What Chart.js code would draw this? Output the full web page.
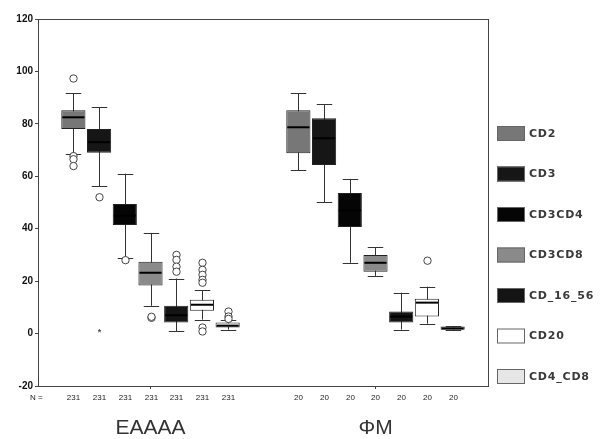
<!DOCTYPE html>
<html>
<head>
<meta charset="utf-8">
<script src="https://cdn.jsdelivr.net/npm/chart.js@4"></script>
<style>
body{margin:0;background:#fff;}
#wrap{width:602px;height:439px;}
</style>
</head>
<body>
<div id="wrap"><canvas id="boxChart" width="602" height="439"></canvas></div>
<script>
let groups = ["EAAAA", "ΦΜ"];
let seriesNames = ["CD2", "CD3", "CD3CD4", "CD3CD8", "CD_16_56", "CD20", "CD4_CD8"];
let seriesColors = ["#777777", "#161616", "#050505", "#8a8a8a", "#141414", "#ffffff", "#e6e6e6"];

// each row: [EAAAA, ΦΜ]
let whiskerLow  = [[68.4, 62.4], [56.3, 50.2], [29, 27], [10.6, 22], [0.8, 1.5], [5.3, 3.8], [1.5, 1.5]];
let q1          = [[78, 68.8], [69, 64.3], [41.4, 40.7], [18.3, 23.6], [4.2, 4.2], [8.7, 6.5], [2.3, 1.5]];
let median      = [[82.5, 78.7], [73, 74.5], [45, 47], [23.2, 27], [7, 6.5], [11, 11.8], [3, 2]];
let q3          = [[85.2, 85.2], [78, 82.1], [49.4, 53.6], [27.4, 30], [10.6, 8.4], [12.9, 13.3], [4.2, 2.7]];
let whiskerHigh = [[91.6, 91.6], [86.3, 87.5], [61, 59], [38.4, 33], [21, 15.6], [16.5, 17.9], [5, 2.7]];
let outliers    = [
  [[97.3, 67.7, 66.5, 63.9], []],
  [[52], []],
  [[28], []],
  [[6, 6.4], []],
  [[30, 28.1, 25.5, 23.6], []],
  [[27, 24.3, 22.4, 20.5, 19.4, 2.3, 0.8], [27.8]],
  [[8.4, 6.5, 5.6], []]
];
let extremes    = [[[], []], [[1], []], [[], []], [[], []], [[], []], [[], []], [[], []]];
let nCounts     = [[231, 231, 231, 231, 231, 231, 231], [20, 20, 20, 20, 20, 20, 20]];
let yTicks      = [-20, 0, 20, 40, 60, 80, 100, 120];

let datasets = seriesNames.map((name, i) => ({
  label: name,
  data: groups.map((g, j) => [q1[i][j], q3[i][j]]),
  backgroundColor: seriesColors[i],
  borderColor: "#222",
  borderWidth: 1,
  borderSkipped: false,
  categoryPercentage: 0.8,
  barPercentage: 0.94
}));

let boxPlugin = {
  id: "boxExtras",
  beforeDatasetsDraw(chart) {
    let a = chart.chartArea;
    let ctx = chart.ctx;
    ctx.save();
    ctx.strokeStyle = "#444";
    ctx.lineWidth = 1;
    ctx.strokeRect(a.left + 0.5, a.top + 0.5, a.right - a.left, a.bottom - a.top);
    // whisker stems behind boxes
    let y = chart.scales.y;
    seriesNames.forEach((s, i) => {
      chart.getDatasetMeta(i).data.forEach((bar, j) => {
        ctx.strokeStyle = "#333";
        ctx.beginPath();
        ctx.moveTo(Math.round(bar.x) + 0.5, y.getPixelForValue(whiskerHigh[i][j]));
        ctx.lineTo(Math.round(bar.x) + 0.5, y.getPixelForValue(whiskerLow[i][j]));
        ctx.stroke();
      });
    });
    ctx.restore();
  },
  afterDatasetsDraw(chart) {
    let ctx = chart.ctx;
    let y = chart.scales.y;
    let a = chart.chartArea;
    ctx.save();
    seriesNames.forEach((s, i) => {
      chart.getDatasetMeta(i).data.forEach((bar, j) => {
        let cx = Math.round(bar.x) + 0.5;
        let half = bar.width / 2;
        let cap = bar.width * 0.32;
        ctx.strokeStyle = "#333";
        ctx.lineWidth = 1;
        [whiskerHigh[i][j], whiskerLow[i][j]].forEach(v => {
          let py = Math.round(y.getPixelForValue(v)) + 0.5;
          ctx.beginPath();
          ctx.moveTo(cx - cap, py);
          ctx.lineTo(cx + cap, py);
          ctx.stroke();
        });
        ctx.strokeStyle = "#000";
        ctx.lineWidth = 2;
        let my = y.getPixelForValue(median[i][j]);
        ctx.beginPath();
        ctx.moveTo(bar.x - half + 1, my);
        ctx.lineTo(bar.x + half - 1, my);
        ctx.stroke();
        ctx.lineWidth = 1;
        outliers[i][j].forEach(v => {
          ctx.beginPath();
          ctx.arc(cx, y.getPixelForValue(v), 3.7, 0, Math.PI * 2);
          ctx.fillStyle = "#fff";
          ctx.fill();
          ctx.strokeStyle = "#444";
          ctx.stroke();
        });
        extremes[i][j].forEach(v => {
          ctx.fillStyle = "#555";
          ctx.font = "bold 9px Arial";
          ctx.textAlign = "center";
          ctx.textBaseline = "middle";
          ctx.fillText("*", cx, y.getPixelForValue(v) + 2);
        });
        ctx.fillStyle = "#222";
        ctx.font = "8px Arial";
        ctx.textAlign = "center";
        ctx.textBaseline = "middle";
        ctx.fillText(String(nCounts[j][i]), cx, a.bottom + 12);
      });
    });
    ctx.textAlign = "left";
    ctx.fillText("N =", 30, a.bottom + 12);
    // legend
    seriesNames.forEach((s, i) => {
      let ly = 126 + i * 40.5;
      ctx.fillStyle = seriesColors[i];
      ctx.fillRect(497, ly, 28, 15);
      ctx.strokeStyle = "#666";
      ctx.strokeRect(497.5, ly + 0.5, 27, 14);
      ctx.fillStyle = "#3a3a3a";
      ctx.font = "bold 11px 'DejaVu Sans'";
      ctx.letterSpacing = "0.8px";
      ctx.textAlign = "left";
      ctx.textBaseline = "middle";
      ctx.fillText(s, 529, ly + 8);
      ctx.letterSpacing = "0px";
    });
    ctx.restore();
  }
};

let chart = new Chart(document.getElementById("boxChart"), {
  type: "bar",
  data: { labels: groups, datasets: datasets },
  options: {
    responsive: false,
    animation: false,
    layout: { padding: { top: 19, right: 114, left: 0, bottom: 0 } },
    plugins: { legend: { display: false }, tooltip: { enabled: false } },
    scales: {
      x: {
        afterFit: s => { s.height = 53; },
        grid: { display: true, offset: false, drawOnChartArea: false, drawTicks: true, tickLength: 3, color: "#444" },
        border: { display: true, color: "#444" },
        ticks: { padding: 27, color: "#333", font: { family: "Arial", size: 21 } }
      },
      y: {
        min: -20,
        max: 120,
        afterFit: s => { s.width = 38; },
        afterBuildTicks: s => { s.ticks = yTicks.map(v => ({ value: v })); },
        grid: { display: true, drawOnChartArea: false, drawTicks: true, tickLength: 3, color: "#444" },
        border: { display: true, color: "#444" },
        ticks: { padding: 2, color: "#111", font: { family: "Arial", size: 10, weight: "bold" } }
      }
    }
  },
  plugins: [boxPlugin]
});
</script>
</body>
</html>
